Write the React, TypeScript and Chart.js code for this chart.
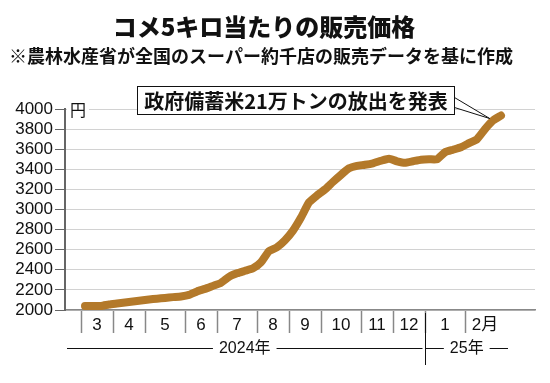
import { useEffect, useRef } from 'react';
import { Chart, registerables } from 'chart.js';

Chart.register(...registerables);

const titleText = 'コメ5キロ当たりの販売価格';
const subtitleText = '※農林水産省が全国のスーパー約千店の販売データを基に作成';
const calloutText = '政府備蓄米21万トンの放出を発表';
const unitLabel = '円';

const monthLabels = ['3', '4', '5', '6', '7', '8', '9', '10', '11', '12', '1', '2月'];
const weeksPerMonth = [4, 4, 5, 4, 5, 4, 4, 5, 4, 4, 5, 5];
const yearLabels = ['2024年', '25年'];
const monthsPerYear = [10, 2];

const prices = [
  2040, 2040, 2040, 2055,
  2065, 2075, 2085, 2095,
  2105, 2112, 2120, 2128, 2135,
  2150, 2185, 2210, 2240,
  2270, 2330, 2365, 2390, 2415,
  2475, 2585, 2625, 2695,
  2790, 2920, 3070, 3140,
  3200, 3275, 3345, 3410, 3435,
  3445, 3460, 3485, 3505,
  3480, 3465, 3480, 3495,
  3500, 3500, 3570, 3595, 3620,
  3660, 3700, 3800, 3885, 3935,
];

const yMin = 2000;
const yMax = 4000;
const yStep = 200;

const CJK = "'Noto Sans CJK JP', 'Noto Sans', sans-serif";
const NUM = "'Liberation Sans', 'Noto Sans CJK JP', sans-serif";
const LINE_COLOR = '#B3792A';

// month boundaries (in week units) and month centres
const boundaries: number[] = [-0.5];
{
  let acc = 0;
  for (const w of weeksPerMonth) {
    acc += w;
    boundaries.push(acc - 0.5);
  }
}
const markValues = boundaries.slice(0, monthLabels.length);
const midValues = monthLabels.map((_, i) => (boundaries[i] + boundaries[i + 1]) / 2);
const xTickValues = [...markValues, ...midValues].sort((a, b) => a - b);

const decorPlugin = {
  id: 'decor',
  afterDraw(chart: any) {
    const ctx = chart.ctx as CanvasRenderingContext2D;
    const { chartArea } = chart;
    const xs = chart.scales.x;
    const ys = chart.scales.y;
    ctx.save();

    // titles
    ctx.fillStyle = '#111';
    ctx.textAlign = 'center';
    ctx.textBaseline = 'middle';
    ctx.font = `900 24px ${CJK}`;
    ctx.fillText(titleText, 264, 27);
    ctx.font = `bold 18px ${CJK}`;
    ctx.fillText(subtitleText, 261, 56);

    // unit label
    ctx.fillStyle = '#fff';
    ctx.fillRect(chartArea.left + 2, ys.getPixelForValue(yMax) - 8, 22, 17);
    ctx.fillStyle = '#111';
    ctx.font = `16px ${CJK}`;
    ctx.textAlign = 'left';
    ctx.fillText(unitLabel, chartArea.left + 5, ys.getPixelForValue(yMax) + 1);

    // year row
    const rowY = chartArea.bottom + 38;
    const yearBoundaryIdx = monthsPerYear[0];
    const splitX = Math.round(xs.getPixelForValue(boundaries[yearBoundaryIdx])) + 0.5;
    const startX = chartArea.left + 2;
    const endX = xs.getPixelForValue(boundaries[boundaries.length - 1]) + 3;
    ctx.font = `16px ${NUM}`;
    ctx.textAlign = 'center';
    ctx.strokeStyle = '#111';
    ctx.lineWidth = 1;
    const segs = [
      [startX, splitX - 3],
      [splitX, endX],
    ];
    segs.forEach(([a, b], i) => {
      const label = yearLabels[i];
      const cx = (a + b) / 2;
      const w = ctx.measureText(label).width + 12;
      ctx.beginPath();
      ctx.moveTo(a, rowY + 0.5);
      ctx.lineTo(cx - w / 2, rowY + 0.5);
      ctx.moveTo(cx + w / 2, rowY + 0.5);
      ctx.lineTo(b, rowY + 0.5);
      ctx.stroke();
      ctx.fillText(label, cx, rowY + 1);
    });
    ctx.beginPath();
    ctx.moveTo(splitX, chartArea.bottom + 3);
    ctx.lineTo(splitX, chartArea.bottom + 55);
    ctx.stroke();

    // callout
    const n = prices.length;
    const tipX = xs.getPixelForValue(n - 2.4);
    const tipY = ys.getPixelForValue(prices[n - 2]) - 2;
    ctx.font = `bold 20px ${CJK}`;
    const tw = ctx.measureText(calloutText).width;
    const boxR = Math.round(tipX - 36) + 0.5;
    const boxL = Math.round(boxR - tw - 14) + 0.5;
    const boxT = Math.round(chartArea.top - 23) + 0.5;
    const boxB = boxT + 28;
    ctx.fillStyle = '#fff';
    ctx.strokeStyle = '#111';
    ctx.lineWidth = 1;
    ctx.beginPath();
    ctx.moveTo(boxR, boxT + 11);
    ctx.lineTo(tipX, tipY);
    ctx.lineTo(boxR, boxT + 21);
    ctx.closePath();
    ctx.fill();
    ctx.beginPath();
    ctx.moveTo(boxR, boxT + 11);
    ctx.lineTo(tipX, tipY);
    ctx.lineTo(boxR, boxT + 21);
    ctx.stroke();
    ctx.fillRect(boxL, boxT, boxR - boxL, boxB - boxT);
    ctx.strokeRect(boxL, boxT, boxR - boxL, boxB - boxT);
    ctx.fillStyle = '#111';
    ctx.textAlign = 'center';
    ctx.textBaseline = 'middle';
    ctx.fillText(calloutText, (boxL + boxR) / 2, (boxT + boxB) / 2 + 1);

    ctx.restore();
  },
};

export default function App() {
  const ref = useRef<HTMLCanvasElement | null>(null);

  useEffect(() => {
    if (!ref.current) return;
    const chart = new Chart(ref.current, {
      type: 'line',
      data: {
        datasets: [
          {
            data: prices.map((p, i) => ({ x: i, y: p })),
            borderColor: LINE_COLOR,
            borderWidth: 8,
            borderCapStyle: 'round',
            borderJoinStyle: 'round',
            pointRadius: 0,
            tension: 0.15,
            fill: false,
          },
        ],
      },
      options: {
        animation: false,
        responsive: false,
        devicePixelRatio: 1,
        layout: { padding: { left: 0, right: 15, top: 109, bottom: 0 } },
        plugins: {
          legend: { display: false },
          tooltip: { enabled: false },
          title: { display: false },
        },
        scales: {
          x: {
            type: 'linear',
            min: -2.5,
            max: 56.25,
            afterBuildTicks: (s: any) => {
              s.ticks = xTickValues.map((v) => ({ value: v }));
            },
            afterFit: (s: any) => {
              s.height = 73;
            },
            ticks: {
              autoSkip: false,
              maxRotation: 0,
              minRotation: 0,
              padding: -18,
              color: '#111',
              font: { family: NUM, size: 17 },
              callback: (v: any) => {
                const i = midValues.indexOf(Number(v));
                return i >= 0 ? monthLabels[i] : '';
              },
            },
            grid: {
              drawOnChartArea: false,
              drawTicks: true,
              tickLength: 23,
              tickWidth: 1.5,
              tickColor: (c: any) =>
                c.tick && markValues.includes(c.tick.value) ? '#888' : 'rgba(0,0,0,0)',
            },
            border: { color: '#888', width: 1.5 },
          },
          y: {
            min: yMin,
            max: yMax,
            afterFit: (s: any) => {
              s.width = 65;
            },
            ticks: {
              stepSize: yStep,
              autoSkip: false,
              padding: 2,
              color: '#111',
              font: { family: NUM, size: 17 },
              callback: (v: any) => String(v),
            },
            grid: {
              color: '#d2d2d2',
              lineWidth: 1,
              tickLength: 10,
              tickColor: '#666',
            },
            border: { color: '#666', width: 2 },
          },
        },
      },
      plugins: [decorPlugin],
    });
    return () => chart.destroy();
  }, []);

  return (
    <div style={{ position: 'fixed', left: 0, top: 0, width: 550, height: 383, background: '#fff' }}>
      <canvas ref={ref} width={550} height={383} style={{ display: 'block' }} />
    </div>
  );
}
